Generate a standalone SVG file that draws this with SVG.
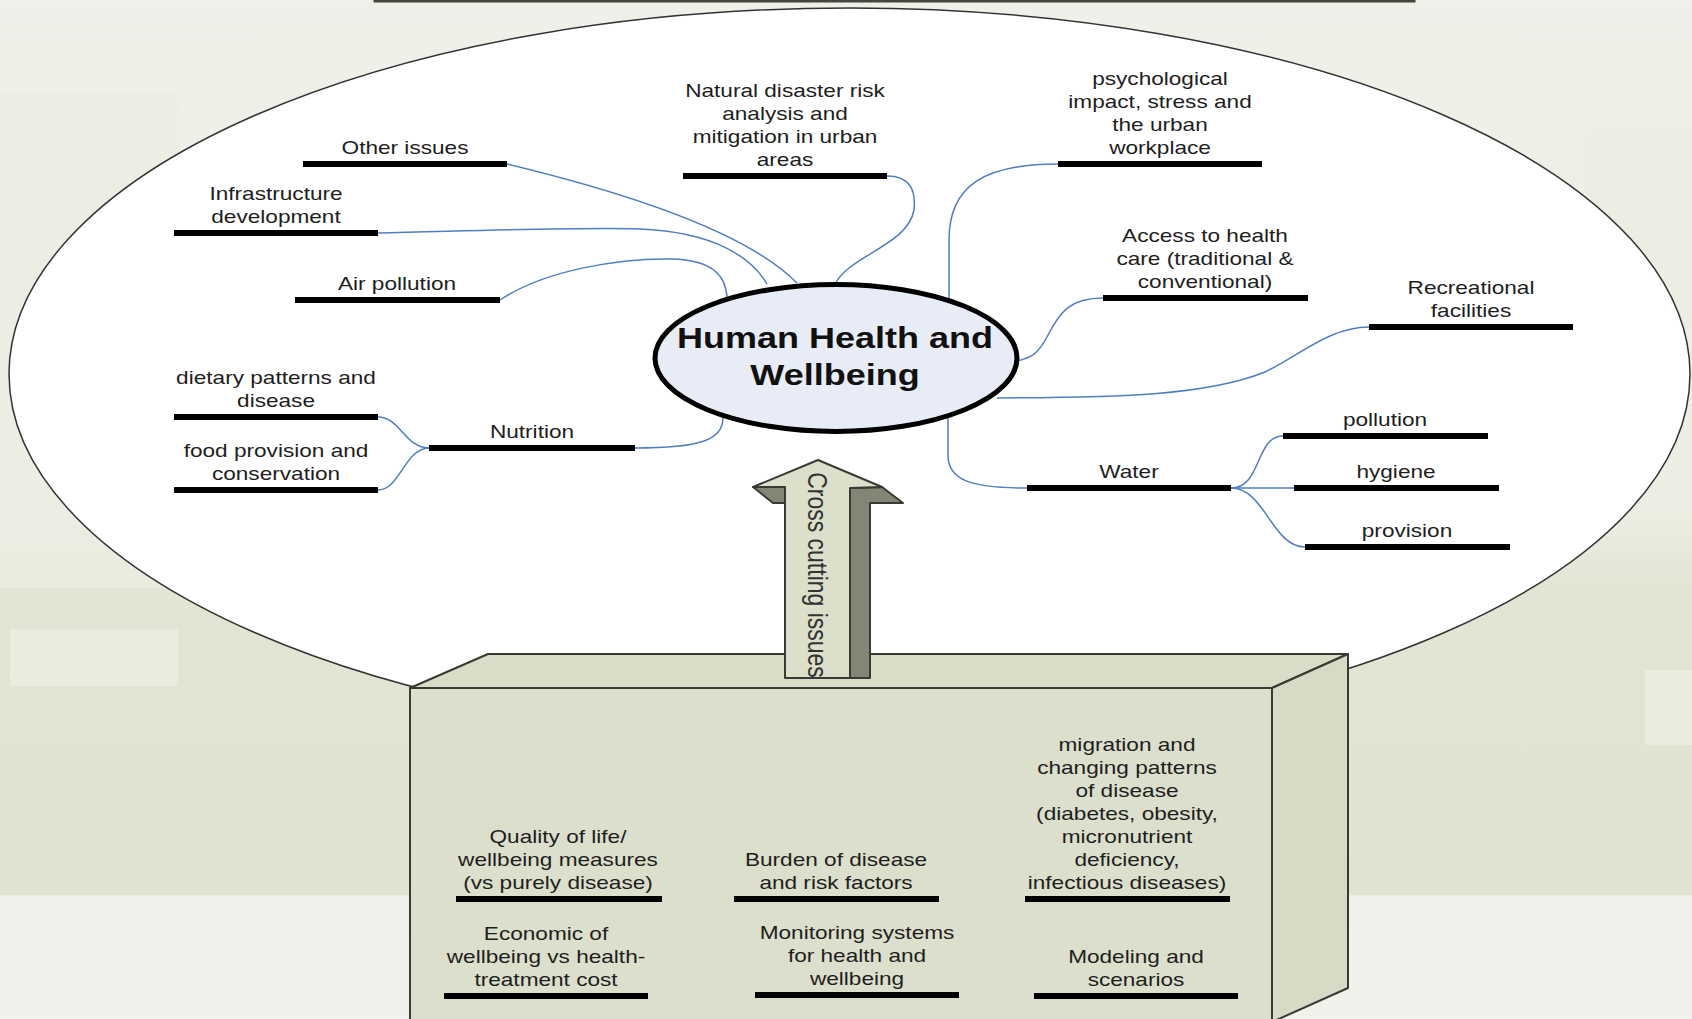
<svg xmlns="http://www.w3.org/2000/svg" width="1692" height="1019" viewBox="0 0 1692 1019">
<style>
.t{font-family:"Liberation Sans",Arial,sans-serif;font-size:19px;fill:#1e1e1e;text-anchor:middle}
.rot{font-family:"Liberation Sans",Arial,sans-serif;font-size:23px;fill:#333;text-anchor:middle}
.title{font-family:"Liberation Sans",Arial,sans-serif;font-size:30px;font-weight:bold;fill:#111;text-anchor:middle}
.bar{fill:#000}
.con{fill:none;stroke:#4f7fc0;stroke-width:1.5}
.edge{stroke:#3a3a35;stroke-width:2;stroke-linejoin:round}
</style>
<defs>
<linearGradient id="bg" x1="0" y1="0" x2="0" y2="1">
<stop offset="0" stop-color="#f0f0ea"/>
<stop offset="0.5" stop-color="#eceee3"/>
<stop offset="0.58" stop-color="#e1e5d3"/>
<stop offset="0.878" stop-color="#dfe3cf"/>
<stop offset="0.879" stop-color="#eff1ea"/>
<stop offset="1" stop-color="#f1f2ec"/>
</linearGradient>
</defs>
<!-- background -->
<rect x="0" y="0" width="1692" height="1019" fill="url(#bg)"/>
<rect x="0" y="92" width="178" height="496" fill="#ebeee2" opacity="0.7"/>
<rect x="10" y="629" width="168" height="57" fill="#e9ecdf"/>
<rect x="1645" y="670" width="47" height="75" fill="#e9ecdf"/>
<rect x="1586" y="130" width="106" height="200" fill="#ebeee3" opacity="0.7"/>
<rect x="375" y="-20" width="1039" height="21" fill="#eeeee6" stroke="#45453d" stroke-width="3"/>

<!-- big ellipse -->
<ellipse id="scope" cx="849.5" cy="374" rx="840.5" ry="366" fill="#ffffff" stroke="#333" stroke-width="1.5"/>

<!-- box -->
<g id="box">
<polygon class="edge" points="410,688 488,654 1348,654 1272,688" fill="#dadcc8"/>
<polygon class="edge" points="1272,688 1348,654 1348,988 1272,1022" fill="#d8dac5"/>
<rect class="edge" x="410" y="688" width="862" height="340" fill="#dcdfcb"/>
</g>

<!-- arrow -->
<g id="arrow">
<polygon class="edge" points="753,487 785,487 785,503 773,503" fill="#858576" stroke-width="1.5"/>
<polygon class="edge" points="850,488 882,487 903,503 870,503 870,678 850,678" fill="#858576" stroke-width="1.5"/>
<polygon class="edge" points="818,460 753,487 785,487 785,678 850,678 850,488 882,487" fill="#dcdfca" stroke-width="1.5"/>
<text class="rot" transform="matrix(0 1 -1.19 0 808 575)"><tspan x="0" y="0">Cross cutting issues</tspan></text>
</g>

<!-- connectors -->
<g id="connectors">
<path class="con" d="M507,164 C590,184 740,225 797,283"/>
<path class="con" d="M378,233 C470,231 580,227 640,229 C715,232 752,258 767,284"/>
<path class="con" d="M500,300 C545,270 620,258 672,259 C712,260 726,275 727,298"/>
<path class="con" d="M887,176 C910,176 916,190 914,210 C908,245 850,255 835,284"/>
<path class="con" d="M1058,164 C985,164 949,185 949,240 L949,301"/>
<path class="con" d="M1103,298 C1070,298 1060,312 1048,335 C1038,355 1030,358 1017,361"/>
<path class="con" d="M1369,327 C1330,327 1300,355 1265,372 C1200,398 1100,397 997,398"/>
<path class="con" d="M948,418 L948,455 C948,480 970,488 1027,488"/>
<path class="con" d="M635,448 C700,448 723,440 723,418"/>
<path class="con" d="M429,448 C405,448 400,417 378,417"/>
<path class="con" d="M429,448 C405,448 400,490 378,490"/>
<path class="con" d="M1231,488 C1262,488 1255,436 1283,436"/>
<path class="con" d="M1231,488 L1294,488"/>
<path class="con" d="M1231,488 C1265,488 1272,547 1305,547"/>
</g>

<!-- center node -->
<g id="n-center">
<ellipse cx="836" cy="358" rx="181" ry="73.5" fill="#e8ecf6" stroke="#000" stroke-width="5"/>
<text class="title" transform="matrix(1.2 0 0 1 835 0)"><tspan x="0" y="348">Human Health and</tspan><tspan x="0" y="385">Wellbeing</tspan></text>
</g>

<g id="n-other"><rect class="bar" x="303" y="161" width="204" height="6"/>
<text class="t" transform="matrix(1.19 0 0 1 405 0)"><tspan x="0" y="154">Other issues</tspan></text></g>

<g id="n-infra"><rect class="bar" x="174" y="230" width="204" height="6"/>
<text class="t" transform="matrix(1.19 0 0 1 276 0)"><tspan x="0" y="200">Infrastructure</tspan><tspan x="0" y="223">development</tspan></text></g>

<g id="n-air"><rect class="bar" x="295" y="297" width="205" height="6"/>
<text class="t" transform="matrix(1.19 0 0 1 397 0)"><tspan x="0" y="290">Air pollution</tspan></text></g>

<g id="n-diet"><rect class="bar" x="174" y="414" width="204" height="6"/>
<text class="t" transform="matrix(1.19 0 0 1 276 0)"><tspan x="0" y="384">dietary patterns and</tspan><tspan x="0" y="407">disease</tspan></text></g>

<g id="n-food"><rect class="bar" x="174" y="487" width="204" height="6"/>
<text class="t" transform="matrix(1.19 0 0 1 276 0)"><tspan x="0" y="457">food provision and</tspan><tspan x="0" y="480">conservation</tspan></text></g>

<g id="n-nutrition"><rect class="bar" x="429" y="445" width="206" height="6"/>
<text class="t" transform="matrix(1.19 0 0 1 532 0)"><tspan x="0" y="438">Nutrition</tspan></text></g>

<g id="n-disaster"><rect class="bar" x="683" y="173" width="204" height="6"/>
<text class="t" transform="matrix(1.19 0 0 1 785 0)"><tspan x="0" y="97">Natural disaster risk</tspan><tspan x="0" y="120">analysis and</tspan><tspan x="0" y="143">mitigation in urban</tspan><tspan x="0" y="166">areas</tspan></text></g>

<g id="n-psych"><rect class="bar" x="1058" y="161" width="204" height="6"/>
<text class="t" transform="matrix(1.19 0 0 1 1160 0)"><tspan x="0" y="85">psychological</tspan><tspan x="0" y="108">impact, stress and</tspan><tspan x="0" y="131">the urban</tspan><tspan x="0" y="154">workplace</tspan></text></g>

<g id="n-access"><rect class="bar" x="1103" y="295" width="205" height="6"/>
<text class="t" transform="matrix(1.19 0 0 1 1205 0)"><tspan x="0" y="242">Access to health</tspan><tspan x="0" y="265">care (traditional &amp;</tspan><tspan x="0" y="288">conventional)</tspan></text></g>

<g id="n-recreation"><rect class="bar" x="1369" y="324" width="204" height="6"/>
<text class="t" transform="matrix(1.19 0 0 1 1471 0)"><tspan x="0" y="294">Recreational</tspan><tspan x="0" y="317">facilities</tspan></text></g>

<g id="n-water"><rect class="bar" x="1027" y="485" width="204" height="6"/>
<text class="t" transform="matrix(1.19 0 0 1 1129 0)"><tspan x="0" y="478">Water</tspan></text></g>

<g id="n-pollution"><rect class="bar" x="1283" y="433" width="205" height="6"/>
<text class="t" transform="matrix(1.19 0 0 1 1385 0)"><tspan x="0" y="426">pollution</tspan></text></g>

<g id="n-hygiene"><rect class="bar" x="1294" y="485" width="205" height="6"/>
<text class="t" transform="matrix(1.19 0 0 1 1396 0)"><tspan x="0" y="478">hygiene</tspan></text></g>

<g id="n-provision"><rect class="bar" x="1305" y="544" width="205" height="6"/>
<text class="t" transform="matrix(1.19 0 0 1 1407 0)"><tspan x="0" y="537">provision</tspan></text></g>

<g id="n-quality"><rect class="bar" x="456" y="896" width="206" height="6"/>
<text class="t" transform="matrix(1.19 0 0 1 558 0)"><tspan x="0" y="843">Quality of life/</tspan><tspan x="0" y="866">wellbeing measures</tspan><tspan x="0" y="889">(vs purely disease)</tspan></text></g>

<g id="n-economic"><rect class="bar" x="444" y="993" width="204" height="6"/>
<text class="t" transform="matrix(1.19 0 0 1 546 0)"><tspan x="0" y="940">Economic of</tspan><tspan x="0" y="963">wellbeing vs health-</tspan><tspan x="0" y="986">treatment cost</tspan></text></g>

<g id="n-burden"><rect class="bar" x="734" y="896" width="205" height="6"/>
<text class="t" transform="matrix(1.19 0 0 1 836 0)"><tspan x="0" y="866">Burden of disease</tspan><tspan x="0" y="889">and risk factors</tspan></text></g>

<g id="n-monitoring"><rect class="bar" x="755" y="992" width="204" height="6"/>
<text class="t" transform="matrix(1.19 0 0 1 857 0)"><tspan x="0" y="939">Monitoring systems</tspan><tspan x="0" y="962">for health and</tspan><tspan x="0" y="985">wellbeing</tspan></text></g>

<g id="n-migration"><rect class="bar" x="1025" y="896" width="205" height="6"/>
<text class="t" transform="matrix(1.19 0 0 1 1127 0)"><tspan x="0" y="751">migration and</tspan><tspan x="0" y="774">changing patterns</tspan><tspan x="0" y="797">of disease</tspan><tspan x="0" y="820">(diabetes, obesity,</tspan><tspan x="0" y="843">micronutrient</tspan><tspan x="0" y="866">deficiency,</tspan><tspan x="0" y="889">infectious diseases)</tspan></text></g>

<g id="n-modeling"><rect class="bar" x="1034" y="993" width="204" height="6"/>
<text class="t" transform="matrix(1.19 0 0 1 1136 0)"><tspan x="0" y="963">Modeling and</tspan><tspan x="0" y="986">scenarios</tspan></text></g>
</svg>
